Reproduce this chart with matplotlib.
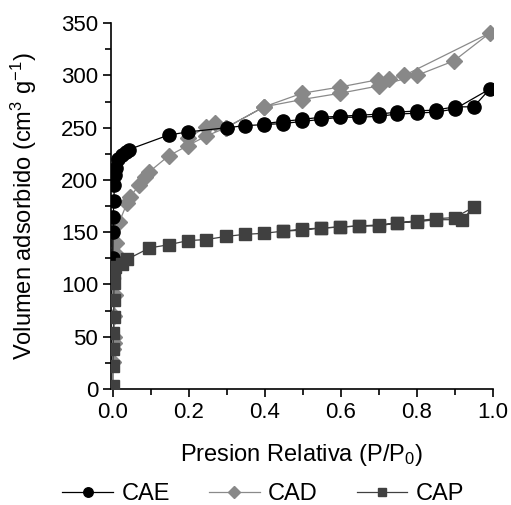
import matplotlib
matplotlib.use("Agg")
import matplotlib.pyplot as plt
import numpy as np

plt.rcParams['font.family'] = ['Liberation Sans', 'DejaVu Sans']
plt.rcParams['mathtext.fontset'] = 'custom'
plt.rcParams['mathtext.rm'] = 'Liberation Sans'
plt.rcParams['mathtext.it'] = 'Liberation Sans'
plt.rcParams['mathtext.default'] = 'regular'

# CAE (adsorption then desorption)
cae_x = [0.0005, 0.001, 0.002, 0.003, 0.005, 0.007, 0.010, 0.015, 0.025, 0.035, 0.042,
         0.147, 0.198, 0.30, 0.348, 0.398, 0.447, 0.498, 0.547, 0.598, 0.648, 0.699,
         0.748, 0.799, 0.850, 0.900, 0.991,
         0.949, 0.900, 0.850, 0.799, 0.748, 0.699, 0.648, 0.598, 0.547, 0.498, 0.447, 0.398]
cae_y = [125, 150, 165, 180, 195, 205, 211, 220, 224, 227, 229,
         243, 246, 250, 252, 253, 254, 256, 258, 260, 260, 261,
         263, 264, 265, 268, 287,
         270, 270, 267, 266, 265, 263, 262, 261, 260, 258, 256, 254]

# CAD
cad_x = [0.001, 0.002, 0.003, 0.004, 0.005, 0.006, 0.007, 0.008, 0.018, 0.038, 0.046,
         0.070, 0.086, 0.097, 0.147, 0.198, 0.246, 0.298, 0.398, 0.498, 0.598, 0.699,
         0.799, 0.897, 0.993,
         0.766, 0.727, 0.698, 0.598, 0.498, 0.398, 0.298, 0.269, 0.246, 0.198]
cad_y = [26, 38, 44, 50, 70, 90, 130, 140, 160, 178, 184,
         195, 203, 208, 223, 233, 242, 250, 270, 277, 283, 290,
         300, 314, 341,
         300, 297, 296, 289, 283, 270, 250, 255, 251, 240]

# CAP
cap_x = [0.001, 0.001, 0.002, 0.002, 0.003, 0.003, 0.004, 0.005, 0.007, 0.025, 0.038,
         0.097, 0.147, 0.198, 0.246, 0.298, 0.348, 0.398, 0.447, 0.498, 0.547, 0.598,
         0.648, 0.699, 0.748, 0.799, 0.850, 0.919, 0.949,
         0.899, 0.850, 0.799, 0.748, 0.699, 0.648, 0.598, 0.547, 0.498, 0.447]
cap_y = [3, 22, 38, 54, 69, 85, 101, 111, 117, 120, 124,
         135, 138, 142, 143, 146, 148, 149, 151, 152, 154, 155,
         156, 156, 159, 160, 162, 162, 174,
         164, 163, 161, 159, 157, 156, 155, 154, 153, 151]

fig = plt.figure(figsize=(5.11, 5.05), dpi=100)
ax = fig.add_axes([0.2166, 0.2297, 0.965 - 0.2166, 0.954 - 0.2297])

ax.plot(cae_x, cae_y, '-', color='black', lw=0.9, marker='o', ms=9.5,
        mfc='black', mec='black', label='CAE', zorder=3)
ax.plot(cad_x, cad_y, '-', color='#8a8a8a', lw=0.9, marker='D', ms=8.5,
        mfc='#888888', mec='#888888', label='CAD', zorder=2)
ax.plot(cap_x, cap_y, '-', color='#404040', lw=0.9, marker='s', ms=8,
        mfc='#404040', mec='#404040', label='CAP', zorder=4)

ax.set_xlim(-0.005, 1.0)
ax.set_ylim(0, 350)
ax.set_xticks(np.arange(0, 1.01, 0.2))
ax.set_xticks(np.arange(0, 1.01, 0.1), minor=True)
ax.set_yticks(np.arange(0, 351, 50))
ax.set_yticks(np.arange(0, 351, 25), minor=True)
ax.xaxis.set_major_formatter(matplotlib.ticker.FormatStrFormatter('%.1f'))
for s in ['top', 'right']:
    ax.spines[s].set_visible(False)
for s in ['left', 'bottom']:
    ax.spines[s].set_linewidth(1.2)
ax.tick_params(which='both', direction='out', width=1.2, labelsize=16)
ax.tick_params(which='major', length=6, pad=3)
ax.tick_params(which='minor', length=4)

ax.set_xlabel('Presion Relativa (P/P$_0$)', fontsize=17, labelpad=14)
ax.set_ylabel('Volumen adsorbido (cm$^3$ g$^{-1}$)', fontsize=17, labelpad=16)

fig.legend(loc='center', bbox_to_anchor=(0.515, 0.022), ncol=3, frameon=False,
           fontsize=17, handlelength=2.15, columnspacing=1.65, handletextpad=0.35,
           markerscale=0.72)

fig.savefig('out.png', dpi=100)
